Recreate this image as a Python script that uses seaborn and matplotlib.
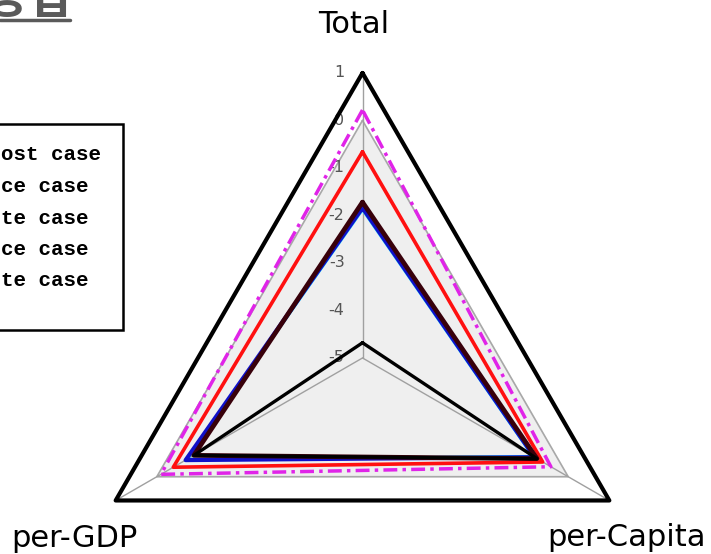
import numpy as np
import pandas as pd
import seaborn as sns
import matplotlib.pyplot as plt
from matplotlib.patches import Rectangle
from matplotlib.lines import Line2D

# radar axes / ticks
categories = ["Total", "per-GDP", "per-Capita"]
r_ticks = [1, 0, -1, -2, -3, -4, -5]
r_min, r_max = -5, 1
grid_level = 0

# legend text (left part of the box is cut off in the source)
legend_labels = ["ost case", "ce case", "te case", "ce case", "te case"]

# values: Total, per-GDP, per-Capita
magenta_vals = [0.22, -0.10, -0.42]
red_vals = [-0.66, -0.40, -0.62]
cyan_vals = [-1.88, -0.74, -0.86]
blue_vals = [-1.84, -0.70, -0.82]
maroon_vals = [-1.72, -0.90, -0.76]
black_vals = [-4.68, -0.90, -0.76]

series = [
    ("magenta", magenta_vals, "#e024e8", (0, (4, 1.5, 1, 1.5)), 2.5),
    ("red", red_vals, "#ff1010", "-", 2.6),
    ("cyan", cyan_vals, "#20e0ff", "-", 2.0),
    ("blue", blue_vals, "#1010c8", "-", 3.0),
    ("maroon", maroon_vals, "#38000a", "-", 3.4),
    ("black", black_vals, "#000000", "-", 2.4),
]

sns.set_theme(style="white")
plt.rcParams["font.family"] = ["DejaVu Sans"]

fig = plt.figure(figsize=(7.11, 5.54), dpi=100)
# polar axes centred on the triangle (radius 285 px)
ax = fig.add_axes([0.109, -0.1606, 0.8017, 1.0289], projection="polar")
ax.set_theta_zero_location("N")
ax.set_ylim(r_min, r_max)
ax.set_xticks([])
ax.set_yticks([])
ax.grid(False)
ax.spines["polar"].set_visible(False)
ax.patch.set_visible(False)

theta = np.linspace(0, 2 * np.pi, len(categories), endpoint=False)
theta_c = np.append(theta, theta[0])


def closed(vals):
    return np.append(vals, vals[0])


# grey inner area + grid triangle + spokes
ax.fill(theta_c, closed([grid_level] * 3), color="#efefef", zorder=0, clip_on=False)
ax.plot(theta_c, closed([grid_level] * 3), color="#a8a8a8", lw=1.2, zorder=1)
for t in theta:
    ax.plot([t, t], [r_min, r_max], color="#a0a0a0", lw=1.0, zorder=1, clip_on=False)

# tick labels along the top spoke
for v in r_ticks:
    ax.annotate(str(v), xy=(0, v), xytext=(-18, 0), textcoords="offset pixels",
                ha="right", va="center", fontsize=11.5, color="#555555", zorder=1)

# outer frame
sns.lineplot(x=theta_c, y=closed([r_max] * 3), sort=False, estimator=None, ax=ax,
             color="black", lw=3.0, zorder=2, clip_on=False)

for i, (name, vals, color, ls, lw) in enumerate(series):
    sns.lineplot(x=theta_c, y=closed(vals), sort=False, estimator=None, ax=ax,
                 color=color, linestyle=ls, lw=lw, zorder=3 + i, clip_on=False)

# category labels
offsets = {"Total": (-9, 48), "per-GDP": (-41, -38), "per-Capita": (17, -37)}
for t, cat in zip(theta, categories):
    ax.annotate(cat, xy=(t, r_max), xytext=offsets[cat], textcoords="offset pixels",
                ha="center", va="center", annotation_clip=False,
                fontsize=22, color="black")

# legend box (cut at left edge)
W, H = 711, 554
fig.patches.append(Rectangle((-10 / W, 1 - 330 / H), 133 / W, 206 / H,
                             transform=fig.transFigure, fill=False,
                             edgecolor="black", lw=1.8))
for i, lab in enumerate(legend_labels):
    fig.text(1 / W, 1 - (155 + 31.5 * i) / H, lab, ha="left", va="center",
             family=["Liberation Mono", "DejaVu Sans Mono"], fontweight="bold",
             fontsize=15, color="black")

# fragment of the title in the top-left corner
fig.text(72 / W, 1 - 13 / H, "방법", ha="right", va="baseline", fontsize=34,
         fontweight="bold", color="#5a5a5a", family=["Noto Sans CJK KR", "DejaVu Sans"])
fig.lines.append(Line2D([0, 70 / W], [1 - 20 / H] * 2, transform=fig.transFigure,
                        color="#5a5a5a", lw=2.5))

fig.savefig("out.png", dpi=100)
